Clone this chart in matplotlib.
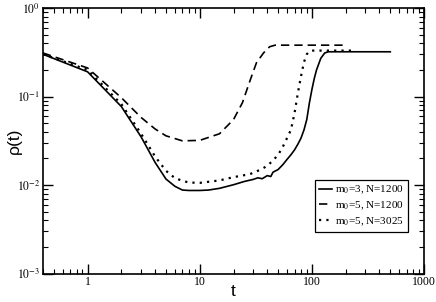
import matplotlib
matplotlib.use('Agg')
import matplotlib.pyplot as plt
from matplotlib.ticker import LogLocator, NullFormatter, FixedLocator, FixedFormatter

plt.rcParams['font.family'] = ['Liberation Serif', 'DejaVu Serif']
plt.rcParams['mathtext.fontset'] = 'stix'

# m0=3, N=1200 (solid)
t_a = [0.4, 1, 2, 3, 4, 5, 6, 7, 8, 10, 12, 15, 20, 25, 30, 33, 36, 40, 43, 45,
       50, 55, 60, 65, 70, 75, 80, 85, 90, 95, 100, 105, 110, 120, 130, 140, 150, 500]
rho_a = [0.30, 0.19, 0.077, 0.035, 0.018, 0.0117, 0.0097, 0.0088, 0.0087, 0.0087,
         0.0088, 0.0092, 0.0101, 0.0110, 0.0116, 0.0121, 0.0118, 0.0128, 0.0125, 0.0140,
         0.0150, 0.0170, 0.0195, 0.022, 0.025, 0.029, 0.034, 0.042, 0.055, 0.085,
         0.12, 0.16, 0.20, 0.27, 0.31, 0.32, 0.32, 0.32]

# m0=5, N=1200 (dashed)
t_b = [0.4, 1, 2, 3, 4, 5, 7, 10, 15, 20, 24, 28, 32, 37, 42, 47, 200]
rho_b = [0.31, 0.21, 0.097, 0.058, 0.043, 0.036, 0.0316, 0.032, 0.038, 0.055,
         0.085, 0.15, 0.24, 0.31, 0.365, 0.38, 0.38]

# m0=5, N=3025 (dotted)
t_c = [0.4, 1, 2, 3, 4, 5, 6, 7, 8, 10, 15, 20, 28, 35, 40, 45, 50, 55, 60, 65,
       70, 75, 80, 85, 90, 95, 100, 225]
rho_c = [0.30, 0.20, 0.082, 0.038, 0.021, 0.0145, 0.012, 0.0112, 0.0107, 0.0106,
         0.0113, 0.0123, 0.0133, 0.0150, 0.0165, 0.019, 0.022, 0.027, 0.034, 0.042,
         0.065, 0.11, 0.17, 0.245, 0.30, 0.325, 0.33, 0.33]

labels = [r'm$_0$=3, N=1200', r'm$_0$=5, N=1200', r'm$_0$=5, N=3025']
xticks = [1, 10, 100, 1000]
xticklabels = ['1', '10', '100', '1000']
yticks = [1e-3, 1e-2, 1e-1, 1]
yticklabels = [r'$10^{-3}$', r'$10^{-2}$', r'$10^{-1}$', r'$10^{0}$']

fig = plt.figure(figsize=(4.36, 3.02), dpi=100)
ax = fig.add_axes([0.0986, 0.0937, 0.874, 0.880])

ax.plot(t_a, rho_a, color='k', linestyle='-', lw=1.2, label=labels[0])
ax.plot(t_b, rho_b, color='k', linestyle=(0, (5, 3)), lw=1.2, label=labels[1])
ax.plot(t_c, rho_c, color='k', linestyle=(0, (1, 2.3)), lw=1.6, label=labels[2])

ax.set_xscale('log')
ax.set_yscale('log')
ax.set_xlim(0.4, 1000)
ax.set_ylim(1e-3, 1)

ax.xaxis.set_major_locator(FixedLocator(xticks))
ax.xaxis.set_major_formatter(FixedFormatter(xticklabels))
ax.yaxis.set_major_locator(FixedLocator(yticks))
ax.yaxis.set_major_formatter(FixedFormatter(yticklabels))
ax.xaxis.set_minor_locator(LogLocator(base=10, subs=range(2, 10)))
ax.yaxis.set_minor_locator(LogLocator(base=10, subs=range(2, 10)))
ax.xaxis.set_minor_formatter(NullFormatter())
ax.yaxis.set_minor_formatter(NullFormatter())

ax.tick_params(which='both', direction='in', top=True, right=True, labelsize=8.5, pad=2)
ax.tick_params(which='major', length=7, width=1)
ax.tick_params(which='minor', length=3.5, width=0.8)
for s in ax.spines.values():
    s.set_linewidth(1.2)

ax.set_xlabel('t', family='Liberation Sans', fontsize=12.5)
ax.set_ylabel(r'ρ(t)', family='Liberation Sans', fontsize=12.5)
ax.xaxis.set_label_coords(0.5, -0.038)
ax.yaxis.set_label_coords(-0.055, 0.5)

leg = ax.legend(loc='lower right', bbox_to_anchor=(0.958, 0.158), fontsize=8,
                frameon=True, fancybox=False, framealpha=1, edgecolor='k',
                handlelength=1.1, handletextpad=0.35, borderpad=0.35,
                labelspacing=0.3, borderaxespad=0)
leg.get_frame().set_linewidth(0.9)

fig.savefig('out.png', dpi=100)
